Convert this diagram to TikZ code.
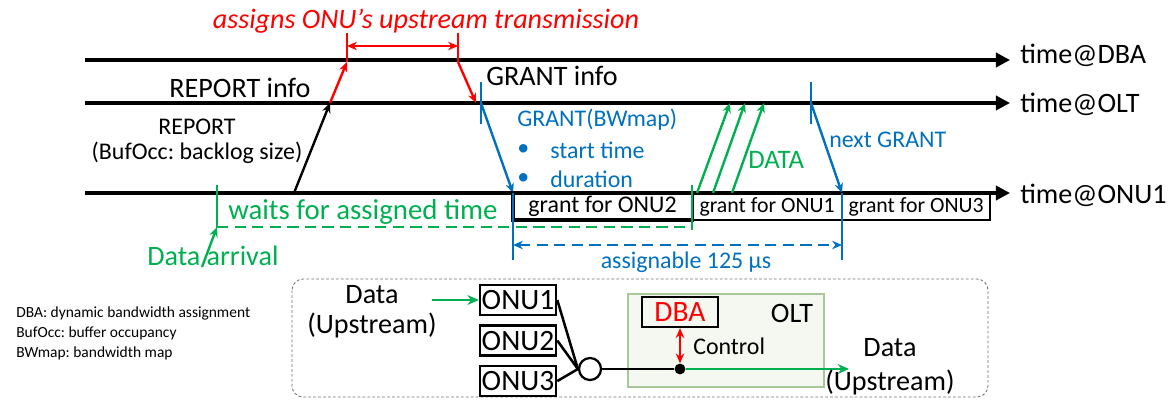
\documentclass[tikz,border=0pt]{standalone}
\usepackage{fontspec}
\setmainfont{Carlito}
\usetikzlibrary{arrows.meta,positioning}

\definecolor{pred}{HTML}{FF0000}
\definecolor{pblue}{HTML}{0070C0}
\definecolor{pgreen}{HTML}{00B050}
\definecolor{oltfill}{HTML}{F5F8F1}
\definecolor{oltedge}{HTML}{A8C89A}
\definecolor{framegray}{HTML}{707070}

\begin{document}
\frenchspacing
\begin{tikzpicture}[x=0.025cm,y=-0.025cm,
		timeline/.style={line width=2.4pt,-{Triangle[length=10pt,width=10pt]}},
		msg/.style={line width=1.7pt,-{Stealth[length=7pt,width=6pt]}},
		twoway/.style={line width=1.7pt,{Stealth[length=7pt,width=6pt]}-{Stealth[length=7pt,width=6pt]}},
		tickmark/.style={line width=1.8pt},
		bigtext/.style={inner sep=0pt,font=\fontsize{20}{24}\selectfont},
		midtext/.style={inner sep=0pt,font=\fontsize{17}{21}\selectfont},
		grantbox/.style={draw,line width=1.5pt,minimum height=0.675cm,inner sep=0pt,outer sep=0pt,font=\fontsize{15.5}{18}\selectfont},
		onubox/.style={draw,line width=1.8pt,minimum width=1.9cm,minimum height=0.75cm,inner sep=0pt,font=\fontsize{21}{24}\selectfont}]
	\useasboundingbox (0,0) rectangle (1176,400);
	% time lines
	\coordinate (dbaL) at (85,60);  \coordinate (dbaR) at (1010,60);
	\coordinate (oltL) at (85,103); \coordinate (oltR) at (1010,103);
	\coordinate (onuL) at (85,193); \coordinate (onuR) at (1010,193);
	\draw[timeline] (dbaL) -- (dbaR);
	\draw[timeline] (oltL) -- (oltR);
	\draw[timeline] (onuL) -- (onuR);
	\node[bigtext,anchor=west] (tdba) at (1020,55) {time@DBA};
	\node[bigtext,anchor=west] (tolt) at (1020,104) {time@OLT};
	\node[bigtext,anchor=west] (tonu) at (1020,195) {time@ONU1};
	
	% DBA processing
	\coordinate (rt1) at (347,33); \coordinate (rb1) at (347,62);
	\coordinate (rt2) at (458,33); \coordinate (rb2) at (458,62);
	\draw[tickmark,pred] (rt1) -- (rb1);
	\draw[tickmark,pred] (rt2) -- (rb2);
	\draw[twoway,pred] (347,46) -- (458,46);
	\node[bigtext,pred,font=\fontsize{20}{24}\selectfont\itshape] (assign) at (426,21) {assigns ONU’s upstream transmission};
	\coordinate (repin) at (330,103);
	\coordinate (grout) at (476,103);
	\draw[msg,pred] (repin) -- (rb1);
	\draw[msg,pred] (rb2) -- (grout);
	\node[bigtext] (repinfo) at (240,88) {REPORT info};
	\node[bigtext,anchor=west] (grinfo) at (486,76) {GRANT info};
	
	% REPORT
	\coordinate (repout) at (294,193);
	\draw[msg] (repout) -- (repin);
	\node[midtext,align=center,font=\fontsize{17}{17.8}\selectfont] (report) at (197,141) {REPORT\\(BufOcc: backlog size)};
	
	% GRANT
	\coordinate (g1t) at (481,82); \coordinate (g1b) at (481,124);
	\coordinate (g1) at (481,103); \coordinate (g1rx) at (513,193);
	\draw[tickmark,pblue] (g1t) -- (g1b);
	\draw[msg,pblue] (g1) -- (g1rx);
	\node[midtext,pblue,anchor=west] (bwmap) at (517,120) {GRANT(BWmap)};
	\node[midtext,pblue,anchor=west] (b1) at (517,150) {•};
	\node[midtext,pblue,anchor=west] (start) at (550,150) {start time};
	\node[midtext,pblue,anchor=west] (b2) at (517,179) {•};
	\node[midtext,pblue,anchor=west] (dur) at (550,179) {duration};
	\coordinate (g2t) at (811,82); \coordinate (g2b) at (811,124);
	\coordinate (g2) at (811,103); \coordinate (g2rx) at (842,193);
	\draw[tickmark,pblue] (g2t) -- (g2b);
	\draw[msg,pblue] (g2) -- (g2rx);
	\node[midtext,pblue,anchor=west] (nextg) at (829,140) {next GRANT};
	
	% grant slots
	\node[grantbox,line width=2.2pt,minimum width=4.475cm,font=\fontsize{17}{20}\selectfont,anchor=north west] (slot2) at (513,193) {grant for ONU2};
	\node[grantbox,minimum width=3.75cm,right=0pt of slot2] (slot1) {grant for ONU1};
	\node[grantbox,minimum width=3.7cm,right=0pt of slot1] (slot3) {grant for ONU3};
	
	% DATA
	\foreach \a/\b in {697/730,713/745,732/764}
	\draw[msg,pgreen] (\a,193) -- (\b,103);
	\node[bigtext,pgreen,font=\fontsize{19}{24}\selectfont,anchor=west] (data) at (748,160) {DATA};
	
	% waiting
	\coordinate (w1t) at (217,185); \coordinate (w1b) at (217,228);
	\coordinate (w2t) at (692,185); \coordinate (w2b) at (692,230);
	\coordinate (w2) at (692,227);
	\draw[tickmark,pgreen] (w1t) -- (w1b);
	\draw[tickmark,pgreen] (w2t) -- (w2b);
	\draw[line width=2pt,pgreen,dash pattern=on 8pt off 4.5pt] (217,227) -- (w2);
	\node[bigtext,pgreen,font=\fontsize{20.5}{24}\selectfont,anchor=west] (waits) at (228,212) {waits for assigned time};
	\node[bigtext,pgreen,anchor=west] (arrival) at (147,256) {Data arrival};
	\coordinate (arr0) at (202,267); \coordinate (arr1) at (217,227);
	\draw[msg,pgreen] (arr0) -- (arr1);
	
	% assignable period
	\coordinate (p1t) at (513,193); \coordinate (p1b) at (513,260);
	\coordinate (p2t) at (842,193); \coordinate (p2b) at (842,260);
	\draw[tickmark,pblue] (p1t) -- (p1b);
	\draw[tickmark,pblue] (p2t) -- (p2b);
	\draw[twoway,pblue,dash pattern=on 8pt off 4.5pt] (513,245) -- (842,245);
	\node[midtext,pblue] (period) at (686,262) {assignable 125 μs};
	
	% legend
	\node[inner sep=0pt,anchor=west,align=left,font=\fontsize{11}{14.2}\selectfont] (legend) at (16,333)
	{DBA: dynamic bandwidth assignment\\BufOcc: buffer occupancy\\BWmap: bandwidth map};
	
	% PON sketch
	\draw[framegray,line width=0.6pt,dash pattern=on 2pt off 1.5pt,rounded corners=8pt] (292,279) rectangle (988,397);
	\draw[oltedge,fill=oltfill,line width=0.8pt] (628,294) rectangle (824,387);
	\node[onubox] (onu1) at (518,300) {ONU1};
	\node[onubox,below=0.2cm of onu1] (onu2) {ONU2};
	\node[onubox,below=0.2cm of onu2] (onu3) {ONU3};
	\node[draw,circle,line width=1.6pt,minimum size=0.55cm,inner sep=0pt,fill=white] (split) at (590,369) {};
	\draw[line width=1.8pt] (onu1.east) -- (split.west);
	\draw[line width=1.8pt] (onu2.east) -- (split.west);
	\draw[line width=1.8pt] (onu3.east) -- (split.west);
	\node[circle,fill=black,minimum size=0.27cm,inner sep=0pt] (tap) at (680,369) {};
	\draw[line width=1.8pt] (split.east) -- (tap);
	\coordinate (dataout) at (849,369);
	\draw[line width=1.8pt,pgreen,-{Stealth[length=8pt,width=7pt]}] (tap) -- (dataout);
	\node[draw,line width=1.6pt,minimum width=1.9cm,minimum height=0.75cm,inner sep=0pt,font=\fontsize{21}{24}\selectfont,text=pred] (dba) at (680,312) {DBA};
	\draw[twoway,pred] (dba) -- (tap);
	\node[bigtext] (olt) at (792,313) {OLT};
	\node[midtext,anchor=west] (control) at (693,346) {Control};
	\node[bigtext,align=center] (dataup) at (890,367) {Data\\(Upstream)};
	\node[bigtext,align=center,font=\fontsize{20}{21}\selectfont] (datain) at (372,312) {Data\\(Upstream)};
	\coordinate (inarrow) at (432,300);
	\draw[line width=1.8pt,pgreen,-{Stealth[length=8pt,width=7pt]}] (inarrow) -- (onu1);
\end{tikzpicture}
\end{document}
